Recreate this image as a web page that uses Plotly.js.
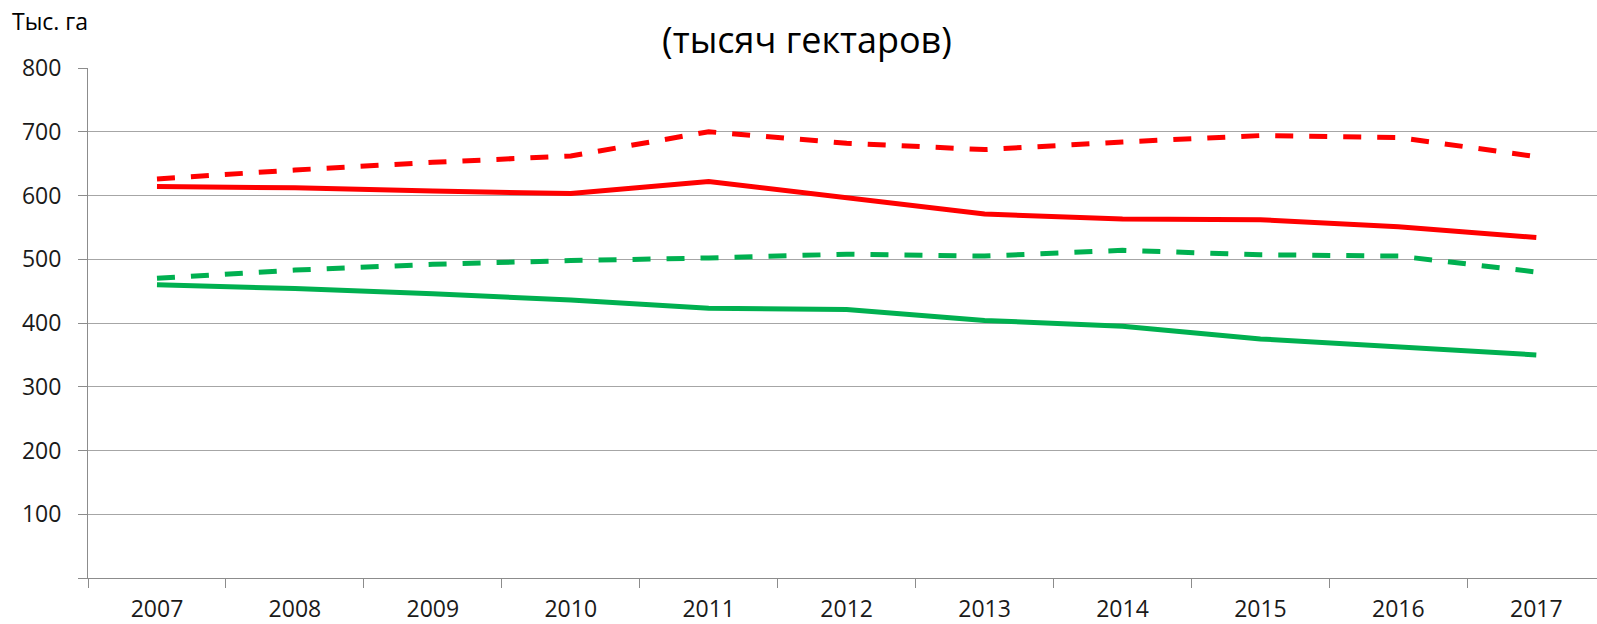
<!DOCTYPE html>
<html>
<head>
<meta charset="utf-8">
<script src="https://cdn.plot.ly/plotly-3.0.1.min.js"></script>
<style>
html,body{margin:0;padding:0;background:#fff;}
#chart{width:1597px;height:624px;}
</style>
</head>
<body>
<div id="chart"></div>
<script>
const years = ['2007','2008','2009','2010','2011','2012','2013','2014','2015','2016','2017'];
const redSolid   = [614, 612, 607, 603, 622, 597, 571, 563, 562, 551, 534];
const redDashed  = [626, 640, 652, 662, 700, 682, 672, 684, 694, 691, 661];
const greenSolid = [460, 454, 446, 436, 423, 421, 404, 395, 375, 362, 350];
const greenDashed= [470, 483, 492, 498, 502, 508, 505, 514, 507, 505, 480];
const yTickVals  = [0, 100, 200, 300, 400, 500, 600, 700, 800];
const yTickText  = ['', '100', '200', '300', '400', '500', '600', '700', '800'];

const RED = '#FF0000', GREEN = '#00B050';
const DASH = '18px,16px';
const W = 5;
const traces = [
  {x: years, y: redDashed, mode: 'lines', line: {color: RED, width: W, dash: DASH}},
  {x: years, y: redSolid, mode: 'lines', line: {color: RED, width: W}},
  {x: years, y: greenDashed, mode: 'lines', line: {color: GREEN, width: W, dash: DASH}},
  {x: years, y: greenSolid, mode: 'lines', line: {color: GREEN, width: W}}
];

const FONT = 'Open Sans, Liberation Sans, sans-serif';
const layout = {
  width: 1597, height: 624,
  margin: {l: 88, r: 0, t: 68, b: 46, pad: 0},
  paper_bgcolor: '#ffffff', plot_bgcolor: '#ffffff',
  showlegend: false,
  font: {family: FONT, color: '#1a1a1a', size: 23},
  title: {
    text: '(тысяч гектаров)',
    font: {family: FONT, size: 36, color: '#000000'},
    x: 807/1597, xanchor: 'center', xref: 'container',
    y: 1 - 40/624, yanchor: 'middle', yref: 'container'
  },
  xaxis: {
    type: 'category',
    range: [-0.5, 10.44],
    showgrid: false,
    showline: true, linecolor: '#8c8c8c', linewidth: 1,
    ticks: 'outside', tickson: 'boundaries', ticklen: 9, tickcolor: '#8c8c8c', tickwidth: 1,
    tickfont: {family: FONT, size: 23, color: '#1a1a1a'},
    ticklabelstandoff: 10,
    zeroline: false, fixedrange: true
  },
  yaxis: {
    range: [0, 800],
    tickmode: 'array', tickvals: yTickVals, ticktext: yTickText,
    showgrid: true, gridcolor: '#a6a6a6', gridwidth: 1,
    showline: true, linecolor: '#8c8c8c', linewidth: 1,
    ticks: 'outside', ticklen: 9, tickcolor: '#8c8c8c', tickwidth: 1,
    tickfont: {family: FONT, size: 23, color: '#1a1a1a'},
    ticklabelstandoff: 12,
    zeroline: false, fixedrange: true
  },
  annotations: [{
    text: 'Тыс. га',
    xref: 'paper', yref: 'paper',
    x: (10 - 88) / 1509, xanchor: 'left',
    y: (578 - 21) / 510, yanchor: 'middle',
    showarrow: false,
    font: {family: FONT, size: 23, color: '#000000'}
  }]
};

Plotly.newPlot('chart', traces, layout, {displayModeBar: false, staticPlot: true});
</script>
</body>
</html>
